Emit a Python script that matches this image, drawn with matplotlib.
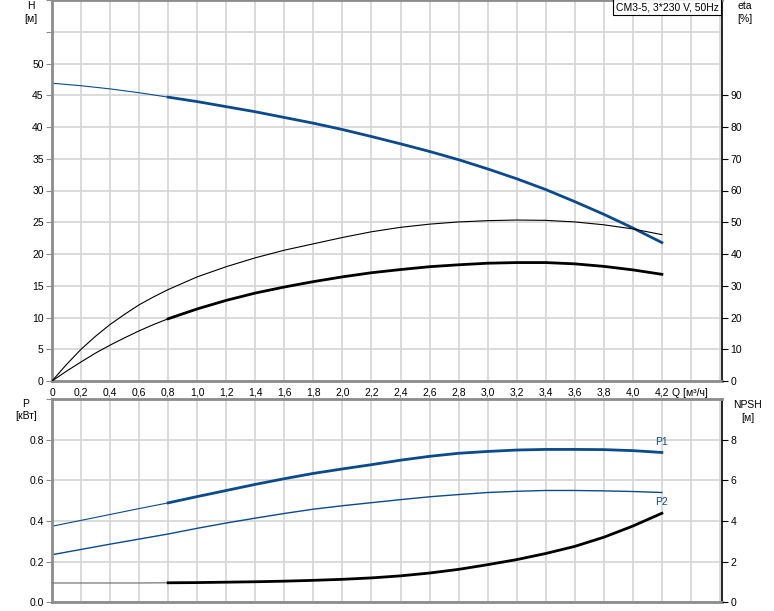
import numpy as np
import matplotlib
matplotlib.use('Agg')
import matplotlib.pyplot as plt

plt.rcParams['font.family'] = ['Liberation Sans', 'DejaVu Sans']

# débit Q [m3/h]
Q = [0.0, 0.2, 0.4, 0.6, 0.8, 1.0, 1.2, 1.4, 1.6, 1.8, 2.0,
     2.2, 2.4, 2.6, 2.8, 3.0, 3.2, 3.4, 3.6, 3.8, 4.0, 4.2]
# hauteur H [m]
H = [46.9, 46.5, 46.0, 45.4, 44.7, 44.0, 43.2, 42.4, 41.5, 40.6, 39.6,
     38.5, 37.35, 36.15, 34.85, 33.4, 31.85, 30.15, 28.25, 26.25, 24.1, 21.8]
# rendements [%] (pas plus fin près de l'origine)
Q_eta = [0.0, 0.1, 0.2, 0.3, 0.4, 0.5, 0.6, 0.7, 0.8, 1.0, 1.2, 1.4, 1.6, 1.8, 2.0,
         2.2, 2.4, 2.6, 2.8, 3.0, 3.2, 3.4, 3.6, 3.8, 4.0, 4.2]
eta_pump = [0.0, 5.2, 10.0, 14.1, 17.8, 21.0, 24.0, 26.5, 28.8, 32.8, 36.0, 38.8, 41.2, 43.2, 45.2,
            47.0, 48.4, 49.4, 50.1, 50.5, 50.7, 50.6, 50.1, 49.2, 47.9, 46.1]
eta_total = [0.0, 3.1, 6.0, 8.8, 11.3, 13.6, 15.8, 17.8, 19.6, 22.7, 25.4, 27.7, 29.6, 31.3, 32.8,
             34.1, 35.1, 36.0, 36.6, 37.1, 37.3, 37.3, 36.9, 36.1, 35.0, 33.6]
# puissances [kW]
P1 = [0.374, 0.403, 0.432, 0.461, 0.489, 0.520, 0.550, 0.580, 0.608, 0.634, 0.656,
      0.677, 0.699, 0.718, 0.733, 0.742, 0.749, 0.752, 0.752, 0.751, 0.746, 0.737]
P2 = [0.234, 0.260, 0.286, 0.311, 0.336, 0.364, 0.390, 0.414, 0.437, 0.458, 0.475,
      0.490, 0.505, 0.519, 0.530, 0.540, 0.546, 0.550, 0.550, 0.548, 0.545, 0.540]
# NPSH [m]
NPSH = [0.95, 0.95, 0.95, 0.95, 0.96, 0.97, 0.99, 1.01, 1.04, 1.08, 1.13,
        1.20, 1.30, 1.44, 1.62, 1.85, 2.10, 2.40, 2.75, 3.20, 3.75, 4.38]

q_ticks = [0, 0.2, 0.4, 0.6, 0.8, 1.0, 1.2, 1.4, 1.6, 1.8, 2.0,
           2.2, 2.4, 2.6, 2.8, 3.0, 3.2, 3.4, 3.6, 3.8, 4.0, 4.2]
q_min = 0.8  # debut de la zone de fonctionnement (trait épais)

blue = '#0b4a8b'
grid_c = '#d4d4d4'
spine_gray = '#8c8c8c'
fs = 7.5

Q = np.array(Q)
Q_eta = np.array(Q_eta)
k = int(np.argmin(np.abs(Q - q_min)))
ke = int(np.argmin(np.abs(Q_eta - q_min)))

fig = plt.figure(figsize=(7.74, 6.11), dpi=100)
ax1 = fig.add_axes([52 / 774, 230 / 611, 670 / 774, 381 / 611])
ax2 = fig.add_axes([52 / 774, 8.7 / 611, 670 / 774, 203.3 / 611])

grid_x = q_ticks + [4.4, 4.6]
for ax in (ax1, ax2):
    ax.set_xlim(0, 4.614)
    ax.set_xticks(grid_x)
    ax.grid(True, color=grid_c, lw=1.2)
    ax.set_axisbelow(True)
    for s in ('left', 'bottom', 'top'):
        ax.spines[s].set_color(spine_gray)
        ax.spines[s].set_linewidth(2)
    ax.spines['right'].set_color('black')
    ax.spines['right'].set_linewidth(1.2)
    ax.tick_params(axis='x', length=0, labelsize=fs, pad=5)
    ax.tick_params(axis='y', length=4, color=spine_gray, labelsize=fs, pad=2)

# courbe H et rendements
ax1.set_ylim(0, 60)
ax1.set_yticks(np.arange(0, 61, 5))
ax1.set_yticklabels([str(v) if v <= 50 else '' for v in range(0, 61, 5)])
ax1.set_xticklabels([('%.1f' % v).replace('.', ',') if v > 0 else '0' for v in q_ticks] + ['', ''])
ax1.plot(Q, H, color=blue, lw=0.8)
ax1.plot(Q[k:], H[k:], color=blue, lw=2)

ax1r = ax1.twinx()
ax1r.set_ylim(0, 120)
ax1r.set_yticks(np.arange(0, 91, 10))
ax1r.tick_params(axis='y', length=4, color='black', labelsize=fs, pad=2)
for s in ax1r.spines.values():
    s.set_visible(False)
ax1r.plot(Q_eta, eta_pump, color='black', lw=0.8)
ax1r.plot(Q_eta, eta_total, color='black', lw=0.8)
ax1r.plot(Q_eta[ke:], eta_total[ke:], color='black', lw=2)

# puissances et NPSH
ax2.set_ylim(0, 1.0)
ax2.set_yticks([0, 0.2, 0.4, 0.6, 0.8, 1.0])
ax2.set_yticklabels(['0.0', '0.2', '0.4', '0.6', '0.8', ''])
ax2.set_xticklabels([])
ax2.plot(Q, P1, color=blue, lw=0.8)
ax2.plot(Q[k:], P1[k:], color=blue, lw=2)
ax2.plot(Q, P2, color=blue, lw=1.0)
ax2.text(Q[-1], P1[-1] + 0.025, 'P1', color=blue, fontsize=fs, ha='center', va='bottom')
ax2.text(Q[-1], P2[-1] - 0.02, 'P2', color=blue, fontsize=fs, ha='center', va='top')

ax2r = ax2.twinx()
ax2r.set_ylim(0, 10)
ax2r.set_yticks([0, 2, 4, 6, 8])
ax2r.tick_params(axis='y', length=4, color='black', labelsize=fs, pad=2)
for s in ax2r.spines.values():
    s.set_visible(False)
ax2r.plot(Q[:k + 1], NPSH[:k + 1], color='#777777', lw=0.9)
ax2r.plot(Q[k:], NPSH[k:], color='black', lw=2)

# textes des axes
fig.text(31 / 774, 1 - 6 / 611, 'H', ha='center', va='center', fontsize=fs)
fig.text(31 / 774, 1 - 19 / 611, '[м]', ha='center', va='center', fontsize=fs)
fig.text(745 / 774, 1 - 6 / 611, 'eta', ha='center', va='center', fontsize=fs)
fig.text(745 / 774, 1 - 19 / 611, '[%]', ha='center', va='center', fontsize=fs)
fig.text(26 / 774, 1 - 404 / 611, 'P', ha='center', va='center', fontsize=fs)
fig.text(26 / 774, 1 - 416 / 611, '[кВт]', ha='center', va='center', fontsize=fs)
fig.text(748 / 774, 1 - 405 / 611, 'NPSH', ha='center', va='center', fontsize=fs)
fig.text(748 / 774, 1 - 418 / 611, '[м]', ha='center', va='center', fontsize=fs)
fig.text(690 / 774, 1 - 393 / 611, 'Q [м³/ч]', ha='center', va='center', fontsize=fs)
fig.text(667 / 774, 1 - 7 / 611, 'CM3-5, 3*230 V, 50Hz', ha='center', va='center', fontsize=fs,
         bbox=dict(facecolor='white', edgecolor='black', lw=0.8, pad=2))

fig.savefig('out.png', dpi=100)
